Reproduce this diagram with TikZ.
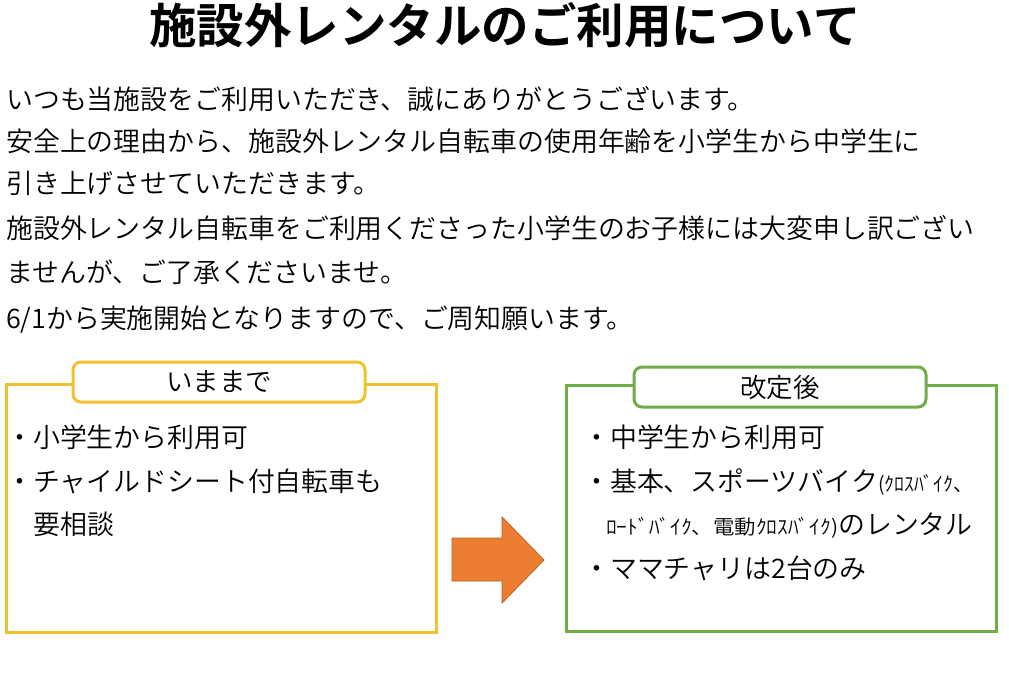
\documentclass[tikz,border=0pt]{standalone}
\usepackage{fontspec}
\usepackage{graphicx}
\IfFontExistsTF{Noto Sans CJK JP DemiLight}
  {\setmainfont{Noto Sans CJK JP DemiLight}[BoldFont={Noto Sans CJK JP Bold}]}
  {\IfFontExistsTF{Noto Sans CJK JP Light}
    {\setmainfont{Noto Sans CJK JP Light}[BoldFont={Noto Sans CJK JP Bold}]}
    {\setmainfont{Noto Sans CJK JP}}}
\definecolor{goldline}{HTML}{F2C12E}
\definecolor{greenline}{HTML}{70AD47}
\definecolor{arroworange}{HTML}{ED7D31}
\definecolor{arrowedge}{HTML}{B8622A}
\newcommand\smallkana[2]{\resizebox{#1}{\height}{\fontsize{20}{20}\selectfont #2}}
\begin{document}
\begin{tikzpicture}[x=1pt,y=-1pt,
  bodyline/.style={anchor=west, inner sep=0pt, font=\fontsize{26.9}{27}\selectfont, text height=23.5pt, text depth=3.5pt},
  outerbox/.style={draw, line width=3pt, minimum width=#1, inner sep=0pt},
  tabbox/.style={draw, line width=3pt, fill=white, rounded corners=8pt, minimum width=292pt, minimum height=40pt, inner sep=0pt, font=\fontsize{26.5}{27}\selectfont}]
\useasboundingbox (0,0) rectangle (1009,697);
\fill[white] (0,0) rectangle (1009,697);

\node[font=\fontsize{47.5}{48}\selectfont\bfseries, inner sep=0pt] (title) at (505,25) {施設外レンタルのご利用について};

\node[bodyline] (l1) at (6,99) {いつも当施設をご利用いただき、誠にありがとうございます。};
\node[bodyline] (l2) at (6,141) {安全上の理由から、施設外レンタル自転車の使用年齢を小学生から中学生に};
\node[bodyline] (l3) at (6,183) {引き上げさせていただきます。};
\node[bodyline] (l4) at (6,228) {施設外レンタル自転車をご利用くださった小学生のお子様には大変申し訳ござい};
\node[bodyline] (l5) at (6,272) {ませんが、ご了承くださいませ。};
\node[bodyline] (l6) at (6,318) {6/1から実施開始となりますので、ご周知願います。};

% left box
\node[outerbox=430pt, minimum height=248pt, draw=goldline] (oldbox) at (221,508) {};
\node[tabbox, draw=goldline] (oldtab) at (219,382) {いままで};
\node[bodyline] (o1) at (6,437) {・小学生から利用可};
\node[bodyline] (o2) at (6,481) {・チャイルドシート付自転車も};
\node[bodyline] (o3) at (33,524) {要相談};

% right box
\node[outerbox=430pt, minimum height=246pt, draw=greenline] (newbox) at (781,508.5) {};
\node[tabbox, draw=greenline] (newtab) at (780,387) {改定後};
\node[bodyline] (n1) at (583,437) {・中学生から利用可};
\node[bodyline] (n2) at (583,481) {・基本、スポーツバイク\smallkana{95pt}{(ｸﾛｽﾊﾞｲｸ、}};
\node[bodyline] (n3) at (606,524) {\smallkana{232pt}{ﾛｰﾄﾞﾊﾞｲｸ、電動ｸﾛｽﾊﾞｲｸ)}のレンタル};
\node[bodyline] (n4) at (583,568) {・ママチャリは2台のみ};

% arrow
\draw[fill=arroworange, draw=arrowedge, line width=0.8pt]
  (452,538) -- (502,538) -- (502,517) -- (544,560) -- (502,603) -- (502,581) -- (452,581) -- cycle;
\end{tikzpicture}
\end{document}
